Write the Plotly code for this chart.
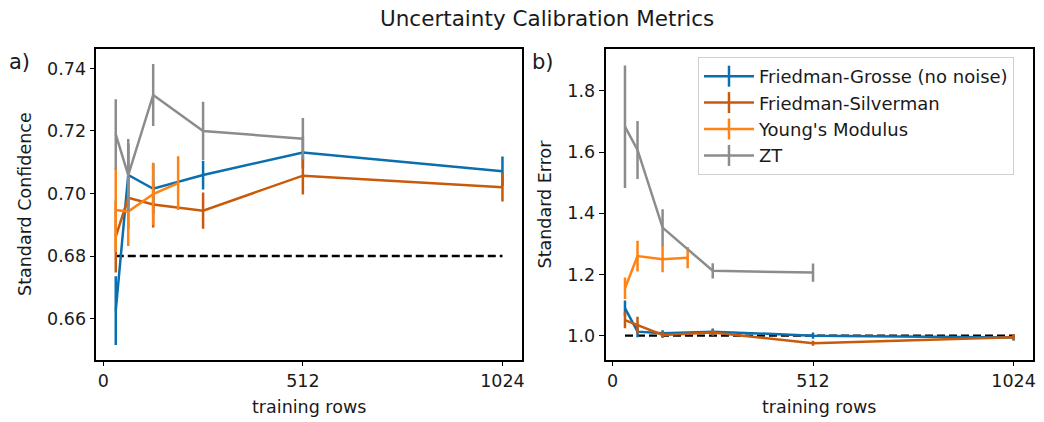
import plotly.graph_objects as go

# ---------------- data ----------------
series_names = ["Friedman-Grosse (no noise)", "Friedman-Silverman", "Young's Modulus", "ZT"]
series_colors = ["#0a6fae", "#c85a0c", "#ff8214", "#8c8c8c"]

rows_fg = [32, 64, 128, 256, 512, 1024]
rows_fs = [32, 64, 128, 256, 512, 1024]
rows_ym = [32, 64, 128, 192]
rows_zt = [32, 64, 128, 256, 512]

# Standard confidence (left panel)
conf_fg = [0.6625, 0.7059, 0.7015, 0.7059, 0.7131, 0.7071]
conf_fg_err = [0.0110, 0.0100, 0.0080, 0.0046, 0.0050, 0.0047]
conf_fs = [0.6862, 0.6986, 0.6965, 0.6945, 0.7057, 0.7020]
conf_fs_err = [0.0115, 0.0100, 0.0074, 0.0058, 0.0060, 0.0046]
conf_ym = [0.6947, 0.6942, 0.6998, 0.7033]
conf_ym_err = [0.0134, 0.0110, 0.0100, 0.0086]
conf_zt = [0.7189, 0.7059, 0.7315, 0.7200, 0.7175]
conf_zt_err = [0.0112, 0.0115, 0.0099, 0.0093, 0.0066]

# Standard error (right panel)
se_fg = [1.090, 1.013, 1.008, 1.013, 1.000, 0.994]
se_fg_err = [0.025, 0.018, 0.010, 0.010, 0.010, 0.010]
se_fs = [1.051, 1.035, 1.002, 1.010, 0.975, 0.995]
se_fs_err = [0.027, 0.027, 0.010, 0.010, 0.008, 0.010]
se_ym = [1.155, 1.260, 1.250, 1.255]
se_ym_err = [0.035, 0.050, 0.043, 0.035]
se_zt = [1.683, 1.607, 1.353, 1.212, 1.206]
se_zt_err = [0.200, 0.095, 0.060, 0.025, 0.030]

ideal_conf = 0.68
ideal_se = 1.0
ideal_rows = [32, 1024]

xticks = [0, 512, 1024]

# ---------------- figure ----------------
W, H = 1044, 422
def px_x(p):
    return p / W
def px_y(p):
    return 1 - p / H

FONT = "DejaVu Sans"
TXT = "#1a1a1a"
LW = 2.5
fig = go.Figure()

left = [(rows_fg, conf_fg, conf_fg_err), (rows_fs, conf_fs, conf_fs_err),
        (rows_ym, conf_ym, conf_ym_err), (rows_zt, conf_zt, conf_zt_err)]
right = [(rows_fg, se_fg, se_fg_err), (rows_fs, se_fs, se_fs_err),
         (rows_ym, se_ym, se_ym_err), (rows_zt, se_zt, se_zt_err)]

fig.add_trace(go.Scatter(x=ideal_rows, y=[ideal_conf] * 2, mode="lines",
                         line=dict(color="black", width=2.3, dash="8px,4px"),
                         showlegend=False, xaxis="x", yaxis="y"))
fig.add_trace(go.Scatter(x=ideal_rows, y=[ideal_se] * 2, mode="lines",
                         line=dict(color="black", width=2.3, dash="8px,4px"),
                         showlegend=False, xaxis="x2", yaxis="y2"))

for (xs, ys, es), col in zip(left, series_colors):
    fig.add_trace(go.Scatter(x=xs, y=ys, mode="lines",
                             line=dict(color=col, width=LW),
                             error_y=dict(type="data", array=es, color=col, thickness=LW, width=0),
                             showlegend=False, xaxis="x", yaxis="y"))
for (xs, ys, es), col in zip(right, series_colors):
    fig.add_trace(go.Scatter(x=xs, y=ys, mode="lines",
                             line=dict(color=col, width=LW),
                             error_y=dict(type="data", array=es, color=col, thickness=LW, width=0),
                             showlegend=False, xaxis="x2", yaxis="y2"))

for name, col in zip(series_names, series_colors):
    fig.add_trace(go.Scatter(x=[None], y=[None], mode="lines+markers", name=name,
                             line=dict(color=col, width=LW),
                             marker=dict(symbol="line-ns-open", size=15,
                                         line=dict(color=col, width=LW)),
                             xaxis="x2", yaxis="y2"))

yd = [px_y(359.5), px_y(49)]
axis_common = dict(showline=True, linecolor="black", linewidth=1.8, mirror=True,
                   ticks="outside", ticklen=5, tickwidth=1.4, tickcolor="black",
                   showgrid=False, zeroline=False,
                   tickfont=dict(family=FONT, size=17.5, color=TXT))

def ann(text, x, y, size, angle=0):
    return dict(text=text, x=px_x(x), y=px_y(y), xref="paper", yref="paper",
                xanchor="center", yanchor="middle", showarrow=False, textangle=angle,
                font=dict(size=size, family=FONT, color=TXT))

fig.update_layout(
    width=W, height=H, margin=dict(l=0, r=0, t=0, b=0),
    plot_bgcolor="white", paper_bgcolor="white",
    font=dict(family=FONT, color=TXT),
    xaxis=dict(domain=[px_x(96.7), px_x(523.3)], range=[-17.6, 1073.6],
               tickvals=xticks, anchor="y", **axis_common),
    yaxis=dict(domain=yd, range=[0.6469, 0.7462], tickvals=[0.66, 0.68, 0.70, 0.72, 0.74],
               tickformat=".2f", anchor="x", **axis_common),
    xaxis2=dict(domain=[px_x(607.3), px_x(1036)], range=[-17.6, 1073.6],
                tickvals=xticks, anchor="y2", **axis_common),
    yaxis2=dict(domain=yd, range=[0.922, 1.937], tickvals=[1.0, 1.2, 1.4, 1.6, 1.8],
                tickformat=".1f", anchor="x2", **axis_common),
    legend=dict(x=px_x(700), y=px_y(57), xanchor="left", yanchor="top",
                bgcolor="rgba(255,255,255,0.8)", bordercolor="#d0d0d0", borderwidth=1,
                font=dict(family=FONT, size=18, color=TXT), itemwidth=50,
                tracegroupgap=0),
    annotations=[
        ann("Uncertainty Calibration Metrics", 549, 18, 21.5),
        ann("Standard Confidence", 25, 204, 17.5, -90),
        ann("Standard Error", 547, 204, 17.5, -90),
        ann("training rows", 310, 407, 17.5),
        ann("training rows", 821, 407, 17.5),
        ann("a)", 20, 62, 21),
        ann("b)", 545, 62, 21),
    ],
)

fig.write_html("out.html", config={"displayModeBar": False},
               post_script="document.body.style.margin='0px';")
